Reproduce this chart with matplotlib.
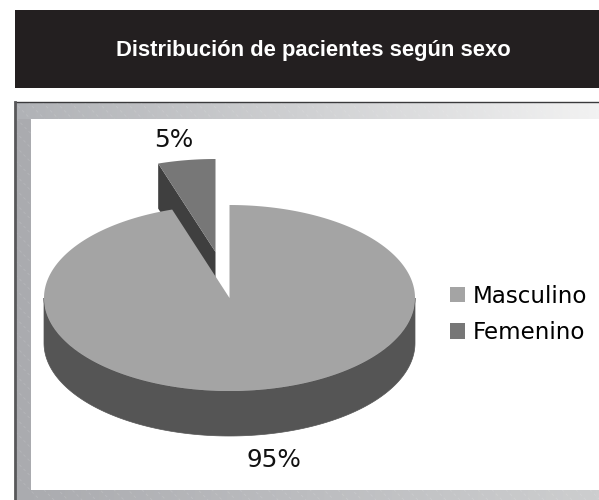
import numpy as np
from matplotlib import pyplot as plt
from matplotlib.colors import LinearSegmentedColormap
from matplotlib.patches import Patch, Polygon, Rectangle

title = "Distribución de pacientes según sexo"
categories = ["Masculino", "Femenino"]
values = [95, 5]
top_colors = ["#a4a4a4", "#777777"]
side_colors = ["#555555", "#3f3f3f"]

# pie geometry in image pixels
cx, cy = 229.5, 298
rx, ry = 185.5, 93
depth = 45
explode_x, explode_y = -14, -46


def pie_xy(deg):
    rad = np.radians(deg)
    return np.column_stack([cx + rx * np.sin(rad), cy - ry * np.cos(rad)])


def make_frame(ax):
    cmap = LinearSegmentedColormap.from_list("frame", ["#b0b2b6", "#d0d1d3", "#f2f2f2"])
    cmap_low = LinearSegmentedColormap.from_list("low", ["#aaabaf", "#bcbdc0", "#cdcecf"])
    ramp = np.linspace(0, 1, 300).reshape(1, -1)
    ax.imshow(ramp, extent=(15, 599, 119, 102), cmap=cmap, aspect="auto", zorder=1)
    ax.imshow(ramp, extent=(15, 599, 500, 119), cmap=cmap_low, aspect="auto", zorder=1)

    # pale streaks of the frame texture
    for start in np.arange(-350, 600, 14):
        ax.plot([start, start + 390], [102, 500], color="white", alpha=0.12, lw=0.7,
                ls=(0, (3, 3)), zorder=2)

    ax.add_patch(Rectangle((31, 119), 568, 371, fc="white", ec="none", zorder=3))
    ax.plot([15, 599], [102, 102], color="#3a3a3c", lw=1, zorder=4)
    ax.plot([15, 15], [102, 500], color="#58585a", lw=2, zorder=4)


def make_pie(ax):
    gap = 360 * values[1] / sum(values)

    # outer wall of the big slice
    low = pie_xy(np.linspace(90, 270, 200))
    wall = np.vstack([low, (low + [0, depth])[::-1]])
    ax.add_patch(Polygon(wall, fc=side_colors[0], ec=side_colors[0], lw=0.5, zorder=5))

    # exploded small slice with its inner face
    arc = pie_xy(np.linspace(360 - gap, 360, 40)) + [explode_x, explode_y]
    apex = np.array([cx + explode_x, cy + explode_y])
    left = arc[0]
    face = np.array([left, apex, apex + [0, depth], left + [0, depth]])
    ax.add_patch(Polygon(face, fc=side_colors[1], ec="none", zorder=5))
    ax.add_patch(Polygon(np.vstack([apex, arc]), fc=top_colors[1], ec="none", zorder=6))

    # top of the big slice
    arc = pie_xy(np.linspace(0, 360 - gap, 400))
    ax.add_patch(Polygon(np.vstack([[cx, cy], arc]), fc=top_colors[0], ec="none", zorder=7))

    ax.text(174, 140, f"{values[1]}%", fontsize=17.8, ha="center", va="center", color="#111111", zorder=8)
    ax.text(274, 460, f"{values[0]}%", fontsize=17.8, ha="center", va="center", color="#111111", zorder=8)


def make_plot():
    fig = plt.figure(figsize=(5.99, 5.0), dpi=100)
    ax = fig.add_axes([0, 0, 1, 1])

    ax.add_patch(Rectangle((15, 10), 584, 78, fc="#231f20", ec="none", zorder=1))
    ax.text(313.5, 50.5, title, color="white", fontsize=15.8, fontweight="bold",
            family="Liberation Sans", ha="center", va="center", zorder=2)

    make_frame(ax)
    make_pie(ax)

    handles = [Patch(fc=c, ec="none") for c in top_colors]
    leg = ax.legend(handles, categories, loc="center left", bbox_to_anchor=(450 / 599, 1 - 314.5 / 500),
                    frameon=False, fontsize=16.6, handlelength=0.67, handleheight=0.67,
                    handletextpad=0.3, labelspacing=0.6, borderpad=0, borderaxespad=0)
    leg.set_zorder(8)

    ax.set_xlim(0, 599)
    ax.set_ylim(500, 0)
    ax.axis("off")
    fig.savefig("out.png", dpi=100, facecolor="white")


if __name__ == "__main__":
    make_plot()
